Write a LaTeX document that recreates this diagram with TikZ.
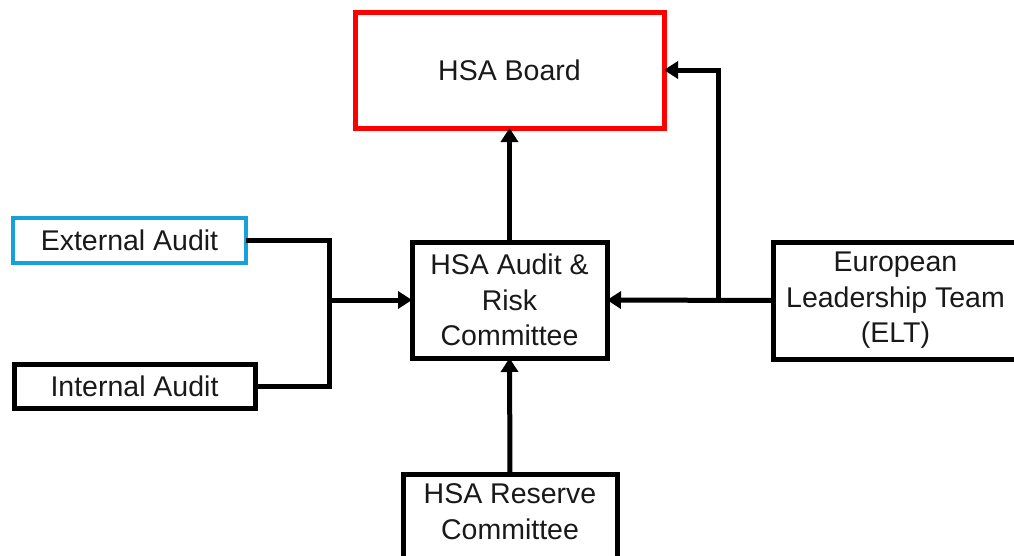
\documentclass[tikz,border=0pt]{standalone}
\usepackage{fontspec}
\setmainfont{Liberation Sans}
\usetikzlibrary{arrows.meta}
\definecolor{boardred}{RGB}{255,0,0}
\definecolor{extblue}{RGB}{22,160,220}
\tikzset{
  box/.style={draw=black, line width=5pt, rectangle, outer sep=0pt, inner sep=2pt,
    align=center, font=\fontsize{28.5}{35.5}\selectfont, text=black!90},
  conn/.style={line width=5pt, draw=black},
  arr/.style={conn, -{Triangle[length=14pt,width=17pt]}},
}
\begin{document}
\begin{tikzpicture}[x=1pt,y=-1pt]
\useasboundingbox (0,0) rectangle (1014,555);
\node[box, draw=boardred, minimum width=309pt, minimum height=116pt] (board) at (509.5,70) {HSA Board};
\node[box, draw=extblue, line width=4.5pt, minimum width=233pt, minimum height=45pt] (ext) at (129.5,240.5) {External Audit};
\node[box, minimum width=241pt, minimum height=44pt] (int) at (134.5,386) {Internal Audit};
\node[box, minimum width=195pt, minimum height=116pt] (arc) at (509.5,300) {HSA Audit \&\\Risk\\Committee};
\node[box, minimum width=245pt, minimum height=117pt] (elt) at (895.5,300.5) {European\\Leadership Team\\(ELT)};
\node[box, minimum width=214pt, minimum height=130pt, anchor=north] (res) at (510,474) {};
\node[box, draw=none, anchor=north] (restext) at ([yshift=-8pt]res.north) {HSA Reserve\\Committee};
\coordinate (j1) at (329,300);
\coordinate (j2) at (718,300);
\draw[conn] (ext.east) -| (j1) |- (int.east);
\draw[arr] (j1) -- (arc.west);
\draw[arr] (elt.west) -- (arc.east);
\draw[arr] (j2) |- (board.east);
\draw[arr] (arc.north) -- (board.south);
\draw[arr] (res.north) -- (arc.south);
\end{tikzpicture}
\end{document}
